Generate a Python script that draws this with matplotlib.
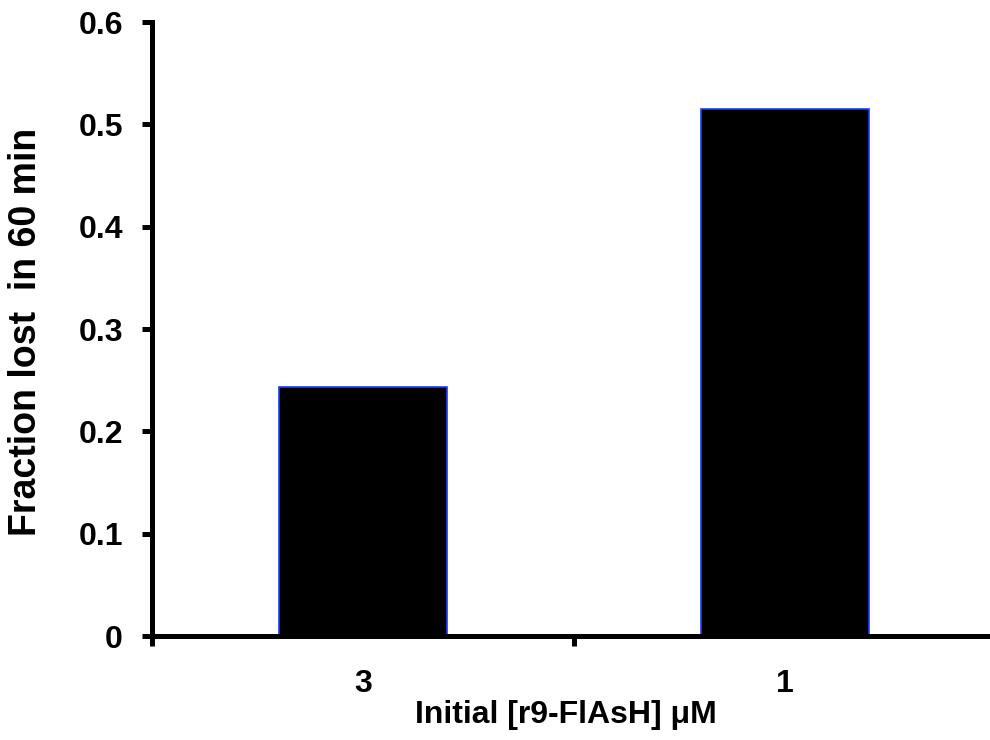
import matplotlib.pyplot as plt

# fraction of r9-FlAsH lost after 60 min, per starting concentration
concs = ['3', '1']
frac_lost = [0.243, 0.515]

plt.rcParams['font.family'] = ['Liberation Sans', 'DejaVu Sans']
plt.rcParams['font.weight'] = 'bold'

fig = plt.figure(figsize=(9.9, 7.4), dpi=100)
ax = fig.add_axes([0.1535, 0.1405, 0.8525, 0.8297])

x = list(range(len(concs)))
ax.bar(x, frac_lost, width=0.40, color='black', edgecolor='#1a3cff', linewidth=1.2, zorder=2)

ax.set_xlim(-0.5, 1.5)
ax.set_ylim(0, 0.6)
ax.set_yticks([0, 0.1, 0.2, 0.3, 0.4, 0.5, 0.6])
ax.set_yticklabels(['0', '0.1', '0.2', '0.3', '0.4', '0.5', '0.6'])

# tick marks between categories, labels at the bar centres
ax.set_xticks([-0.5, 0.5, 1.5])
ax.set_xticklabels([])
ax.set_xticks(x, minor=True)
ax.set_xticklabels(concs, minor=True)
ax.tick_params(axis='x', which='minor', length=0, pad=24, labelsize=23)
ax.tick_params(axis='x', which='major', length=7, width=3.6, direction='out')
ax.tick_params(axis='y', length=7, width=3.6, direction='out', pad=14, labelsize=23)

for s in ['top', 'right']:
    ax.spines[s].set_visible(False)
for s in ['left', 'bottom']:
    ax.spines[s].set_linewidth(3.6)

ax.set_xlabel('Initial [r9-FlAsH] \u03bcM', fontsize=23, fontweight='bold')
ax.xaxis.set_label_coords(0.49, -0.105)
ax.set_ylabel('Fraction lost  in 60 min', fontsize=27, fontweight='bold')
ax.yaxis.set_label_coords(-0.128, 0.495)

fig.savefig('out.png', dpi=100)
